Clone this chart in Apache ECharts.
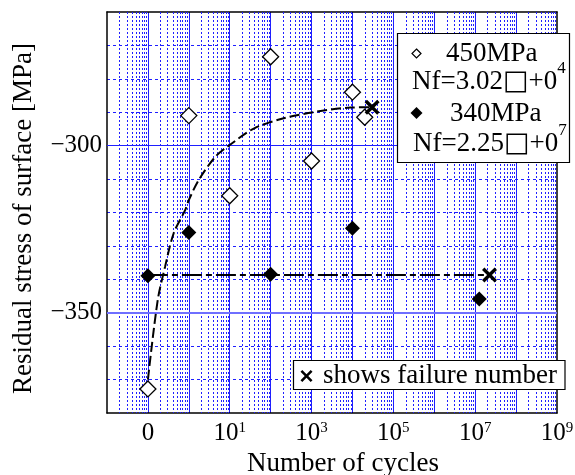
<!DOCTYPE html>
<html>
<head>
<meta charset="utf-8">
<script src="https://cdn.jsdelivr.net/npm/echarts@6/dist/echarts.min.js"></script>
<style>
html,body{margin:0;padding:0;background:#fff;}
#shape{width:575px;height:475px;}
</style>
</head>
<body>
<div id="shape"></div>
<script>
// x values are log10(cycles); -1 is the slot where "0 cycles" is drawn
var xTickExp = [-1, 1, 3, 5, 7, 9];
var yTickLabels = [-300, -350];

var logCycles450 = [-1, 0, 1, 2, 3, 4, 4.3];
var stress450 = [-372.8, -291, -315, -273.4, -304.6, -284, -291.5];

var logCycles340 = [-1, 0, 2, 4, 7.1];
var stress340 = [-338.9, -326, -338.5, -324.7, -345.9];

// failure points (x marks)
var failLog = [4.48, 7.35];
var failStress = [-288.5, -338.7];

// dashed trend curve for 450MPa
var fitLog450 = [-1, -0.76, -0.58, -0.37, -0.09, 0, 0.24, 0.65, 1.0, 1.6, 2.32, 3.13, 3.95, 4.48];
var fitStress450 = [-370, -346.2, -336.2, -326.2, -319.3, -316.3, -310.3, -303.3, -299.8, -294.8, -291.8, -289.8, -288.6, -288.5];

// dash-dot line for 340MPa
var fitLog340 = [-1, 7.35];
var fitStress340 = [-338.7, -338.7];

var font = 'Liberation Serif';
var blue = '#1f1fff';

function zip(a, b) {
    return a.map(function (v, i) { return [v, b[i]]; });
}

// log-spaced minor grid positions (2..9 in every decade)
var minorX = [];
for (var d = -2; d < 9; d++) {
    for (var k = 2; k <= 9; k++) {
        minorX.push([d + Math.log10(k), -300]);
    }
}

var crossPath = 'path://M0,1.6L1.6,0L5,3.4L8.4,0L10,1.6L6.6,5L10,8.4L8.4,10L5,6.6L1.6,10L0,8.4L3.4,5Z';

function crossPoints(cx, cy, r) {
    var t = r * 0.3;
    return [[cx - r, cy - r + t], [cx - r + t, cy - r], [cx, cy - t], [cx + r - t, cy - r], [cx + r, cy - r + t],
        [cx + t, cy], [cx + r, cy + r - t], [cx + r - t, cy + r], [cx, cy + t], [cx - r + t, cy + r],
        [cx - r, cy + r - t], [cx - t, cy]];
}

var richNf = {
    a: { fontFamily: font, fontSize: 27, color: '#000', lineHeight: 44, verticalAlign: 'middle' },
    q: { fontFamily: 'DejaVu Sans', fontSize: 27, color: '#000', verticalAlign: 'middle' },
    s: { fontFamily: font, fontSize: 17, color: '#000', lineHeight: 17, verticalAlign: 'top' }
};

var shape = echarts.init(document.getElementById('shape'));
shape.setOption({
    animation: false,
    textStyle: { fontFamily: font },
    grid: { left: 107, top: 12, right: 18, bottom: 62, outerBoundsMode: 'none', containLabel: false },
    xAxis: [{
        type: 'value',
        min: -2,
        max: 9,
        interval: 1,
        name: 'Number of cycles',
        nameLocation: 'middle',
        nameGap: 36,
        nameTextStyle: { fontFamily: font, fontSize: 27, color: '#000', padding: [0, 0, 0, 22] },
        axisLine: { show: true, onZero: false, lineStyle: { color: '#000', width: 1.5 } },
        axisTick: { show: false },
        axisLabel: {
            margin: 8,
            color: '#000',
            fontFamily: font,
            fontSize: 25,
            formatter: function (v) {
                if (xTickExp.indexOf(v) < 0) return '';
                if (v === -1) return '{b|0}';
                return '{b|10}{s|' + v + '}';
            },
            rich: {
                b: { fontFamily: font, fontSize: 25, color: '#000' },
                s: { fontFamily: font, fontSize: 15, color: '#000', verticalAlign: 'top' }
            }
        },
        splitLine: { show: true, showMinLine: false, showMaxLine: false, lineStyle: { color: blue, width: 1 } }
    }, {
        type: 'value',
        min: -2,
        max: 9,
        position: 'top',
        axisLine: { show: true, onZero: false, lineStyle: { color: '#000', width: 1.5 } },
        axisTick: { show: false },
        axisLabel: { show: false },
        splitLine: { show: false }
    }],
    yAxis: [{
        type: 'value',
        min: -380,
        max: -260,
        interval: 10,
        name: 'Residual stress of surface [MPa]',
        nameLocation: 'middle',
        nameGap: 70,
        nameTextStyle: { fontFamily: font, fontSize: 27, color: '#000', padding: [0, 12, 0, 0] },
        axisLine: { show: true, onZero: false, lineStyle: { color: '#000', width: 1.5 } },
        axisTick: { show: false },
        axisLabel: {
            margin: 5,
            color: '#000',
            fontFamily: font,
            fontSize: 25,
            formatter: function (v) {
                return yTickLabels.indexOf(v) >= 0 ? '\u2212' + Math.abs(v) : '';
            }
        },
        splitLine: { show: true, showMinLine: false, showMaxLine: false, lineStyle: { color: blue, width: 1, type: [3, 3] } }
    }, {
        type: 'value',
        min: -380,
        max: -260,
        position: 'right',
        axisLine: { show: true, onZero: false, lineStyle: { color: '#000', width: 1.5 } },
        axisTick: { show: false },
        axisLabel: { show: false },
        splitLine: { show: false }
    }],
    series: [
        {
            // dotted log minor grid
            type: 'custom',
            silent: true,
            z: 1,
            data: minorX,
            renderItem: function (params, api) {
                var x = api.value(0);
                var p1 = api.coord([x, -260]);
                var p2 = api.coord([x, -380]);
                var px = Math.round(p1[0]) + 0.5;
                return {
                    type: 'line',
                    shape: { x1: px, y1: p1[1], x2: px, y2: p2[1] },
                    style: { stroke: blue, lineWidth: 1, lineDash: [2, 2] }
                };
            }
        },
        {
            // solid lines at the labelled stress values, on top of the dashed split lines
            type: 'custom',
            silent: true,
            z: 1,
            data: yTickLabels.map(function (v) { return [-2, v]; }),
            renderItem: function (params, api) {
                var y = api.value(1);
                var p1 = api.coord([-2, y]);
                var p2 = api.coord([9, y]);
                var py = Math.floor(p1[1]) + 0.5;
                var wide = y === -350;
                return {
                    type: 'line',
                    shape: { x1: p1[0], y1: wide ? py + 0.5 : py, x2: p2[0], y2: wide ? py + 0.5 : py },
                    style: { stroke: wide ? '#6f6fff' : blue, lineWidth: wide ? 2 : 1 }
                };
            }
        },
        {
            type: 'line',
            data: zip(fitLog450, fitStress450),
            smooth: 0.3,
            symbol: 'none',
            z: 3,
            lineStyle: { color: '#000', width: 2, type: [10, 4] }
        },
        {
            type: 'line',
            data: zip(fitLog340, fitStress340),
            symbol: 'none',
            z: 3,
            lineStyle: { color: '#000', width: 2, type: [20, 4, 6, 4] }
        },
        {
            name: '450MPa',
            type: 'scatter',
            data: zip(logCycles450, stress450),
            symbol: 'diamond',
            symbolSize: 16,
            z: 4,
            itemStyle: { color: '#fff', borderColor: '#000', borderWidth: 1.3, opacity: 1 }
        },
        {
            name: '340MPa',
            type: 'scatter',
            data: zip(logCycles340, stress340),
            symbol: 'diamond',
            symbolSize: 15,
            z: 4,
            itemStyle: { color: '#000', opacity: 1 }
        },
        {
            name: 'failure',
            type: 'scatter',
            data: zip(failLog, failStress),
            symbol: crossPath,
            symbolSize: 15,
            z: 5,
            itemStyle: { color: '#000', opacity: 1 }
        }
    ],
    graphic: [
        {
            type: 'rect', z: 100,
            shape: { x: 397.5, y: 33.5, width: 172, height: 129 },
            style: { fill: '#fff', stroke: '#000', lineWidth: 1.2 }
        },
        {
            type: 'polygon', z: 101,
            shape: { points: [[416.5, 49], [421, 53.5], [416.5, 58], [412, 53.5]] },
            style: { fill: '#fff', stroke: '#000', lineWidth: 1.2 }
        },
        {
            type: 'text', z: 101, x: 446, y: 54,
            style: { text: '450MPa', fontFamily: font, fontSize: 27, fill: '#000', verticalAlign: 'middle' }
        },
        {
            type: 'text', z: 101, x: 412, y: 82,
            style: { text: '{a|Nf=3.02}{q|\u25a1}{a|+0}{s|4}', verticalAlign: 'middle', rich: richNf }
        },
        {
            type: 'polygon', z: 101,
            shape: { points: [[416.5, 107], [422.5, 113], [416.5, 119], [410.5, 113]] },
            style: { fill: '#000' }
        },
        {
            type: 'text', z: 101, x: 450, y: 114,
            style: { text: '340MPa', fontFamily: font, fontSize: 27, fill: '#000', verticalAlign: 'middle' }
        },
        {
            type: 'text', z: 101, x: 413, y: 144,
            style: { text: '{a|Nf=2.25}{q|\u25a1}{a|+0}{s|7}', verticalAlign: 'middle', rich: richNf }
        },
        {
            type: 'rect', z: 100,
            shape: { x: 293.5, y: 360.5, width: 271.5, height: 29 },
            style: { fill: '#fff', stroke: '#000', lineWidth: 1.2 }
        },
        {
            type: 'polygon', z: 101,
            shape: { points: crossPoints(306.5, 376, 6) },
            style: { fill: '#000' }
        },
        {
            type: 'text', z: 101, x: 323, y: 376,
            style: { text: 'shows failure number', fontFamily: font, fontSize: 27, fill: '#000', verticalAlign: 'middle' }
        }
    ]
});
window.addEventListener('resize', function () {
    shape.resize();
});
</script>
</body>
</html>
